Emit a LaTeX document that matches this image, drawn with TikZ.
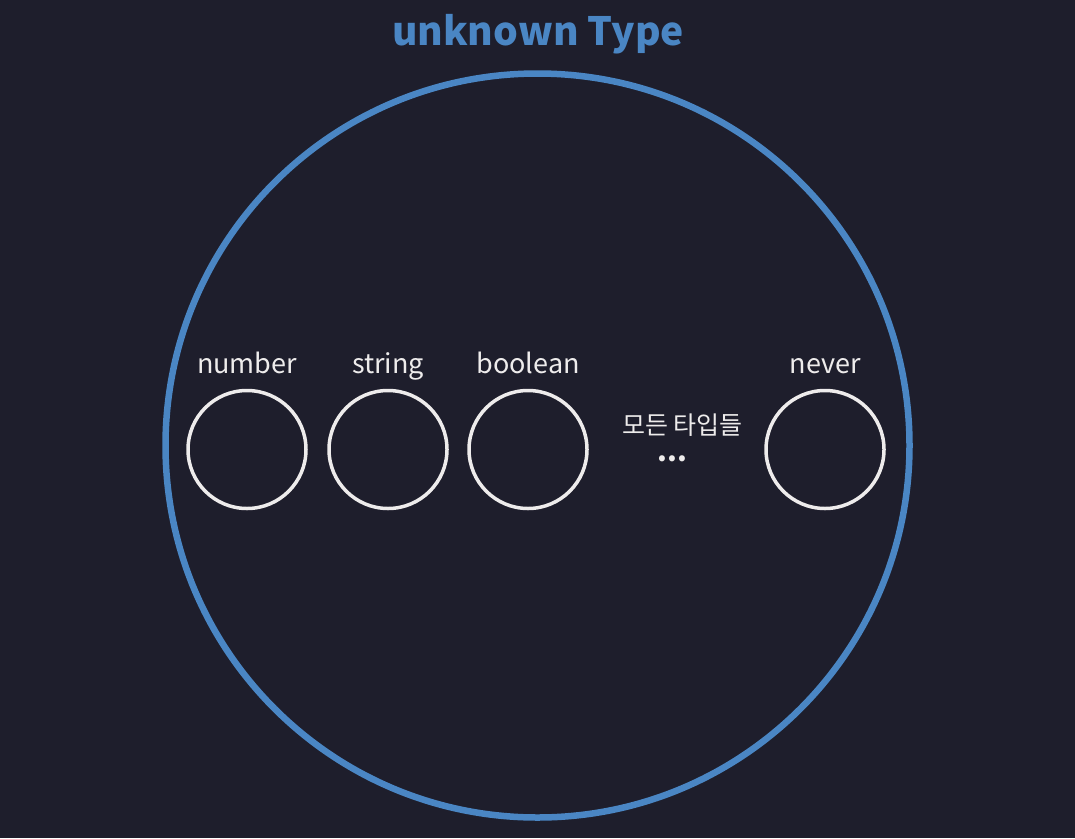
\documentclass[tikz,border=0pt]{standalone}
\usepackage{fontspec}
\setmainfont{Noto Sans CJK KR}
\usetikzlibrary{positioning}

\definecolor{bgcolor}{RGB}{30, 30, 44}
\definecolor{unkcolor}{RGB}{74, 134, 196}
\definecolor{typecolor}{RGB}{238, 236, 236}

\begin{document}
\begin{tikzpicture}[x=1pt, y=-1pt,
    typecircle/.style={circle, draw=typecolor, line width=3.5pt, minimum size=118pt, inner sep=0pt},
    lbl/.style={text=typecolor, font=\fontsize{27}{27}\selectfont, inner sep=0pt, text depth=0pt}]
            % Fond
            \fill[bgcolor] (0,0) rectangle (1075,838);
            \useasboundingbox (0,0) rectangle (1075,838);

            % Ensemble unknown
            \node[circle, draw=unkcolor, line width=6.5pt, minimum size=744pt, inner sep=0pt] (unknown) at (537.5,445.5) {};
            \node[text=unkcolor, anchor=base, inner sep=0pt, font=\bfseries\fontsize{39}{39}\selectfont] (title) at (538,45) {unknown Type};

            % Types
            \node[typecircle] (num) at (247,449.5) {};
            \node[typecircle] (str) at (388,449.5) {};
            \node[typecircle] (bool) at (528,449.5) {};
            \node[typecircle] (nev) at (825,449.5) {};

            \node[lbl, above=15.5pt of num] (numlbl) {number};
            \node[lbl, above=15.5pt of str] (strlbl) {string};
            \node[lbl, above=15.5pt of bool] (boollbl) {boolean};
            \node[lbl, above=15.5pt of nev] (nevlbl) {never};

            % Autres types
            \node[text=typecolor, font=\fontsize{25}{25}\selectfont, inner sep=0pt] (alltypes) at (682.5,425) {모든 타입들};
            \node[text=typecolor, font=\bfseries\fontsize{28}{28}\selectfont, inner sep=0pt, anchor=base] (dots) at (672.5,461) {...};
\end{tikzpicture}
\end{document}
